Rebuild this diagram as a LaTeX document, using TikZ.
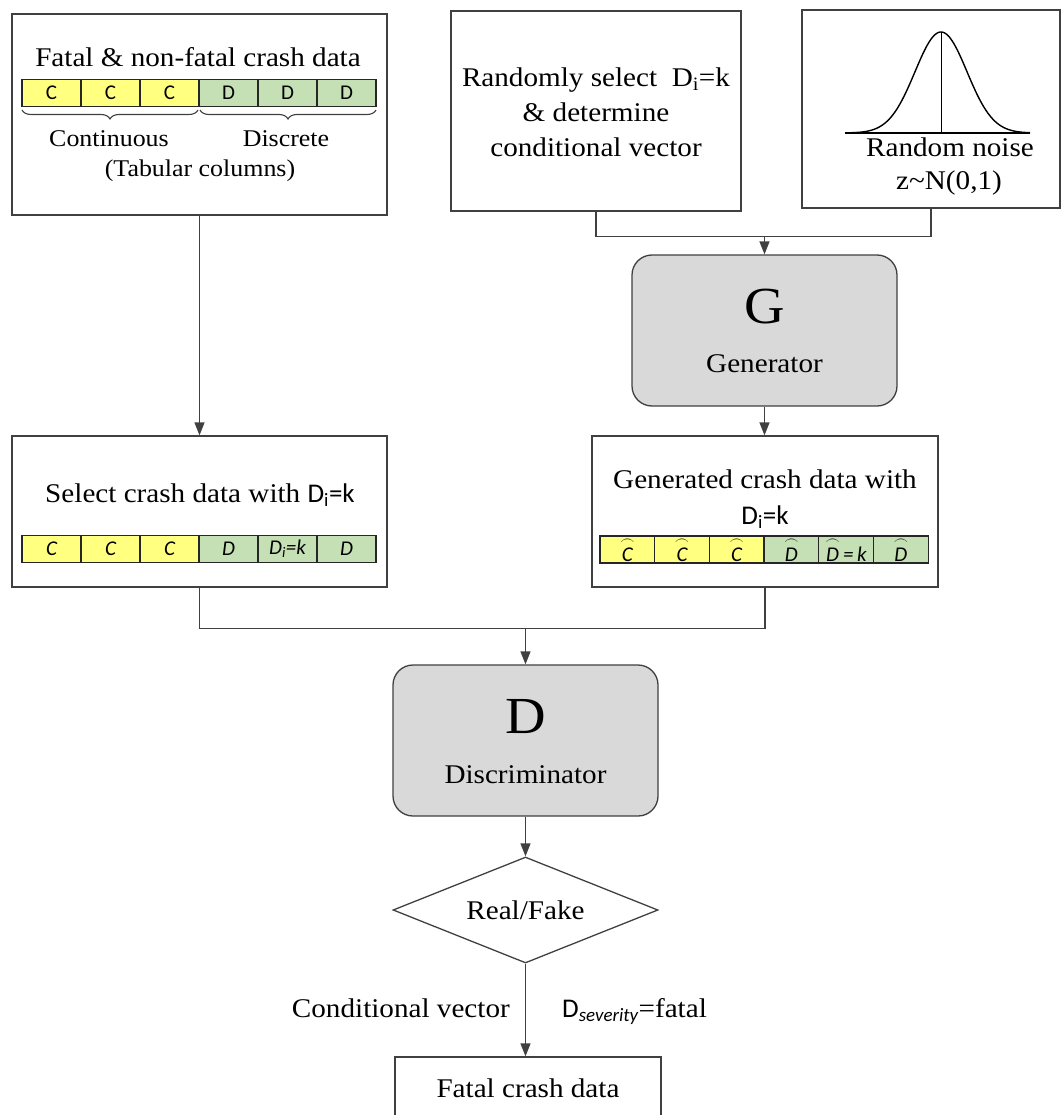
\documentclass[tikz,border=0pt]{standalone}
\usepackage{amsmath}
\usepackage{fontspec}
\setmainfont{Liberation Serif}[FakeStretch=1.08]
\newfontfamily\calib{Carlito}
\usetikzlibrary{arrows.meta,shapes.geometric,decorations.pathreplacing}
\definecolor{cyel}{RGB}{255,255,128}
\definecolor{cgrn}{RGB}{197,224,180}
\definecolor{cgray}{RGB}{217,217,217}
\definecolor{cline}{RGB}{64,64,64}
\newcommand\arcov[1]{$\overset{\frown}{\mbox{\itshape #1}}$}
\begin{document}
\begin{tikzpicture}[x=1pt,y=-1pt,
  box/.style={draw=cline,line width=1.3pt,fill=white,inner sep=0pt},
  rbox/.style={draw=cline,line width=1.3pt,fill=cgray,rounded corners=20pt,inner sep=0pt},
  txt/.style={font=\fontsize{27}{35}\selectfont,inner sep=0pt},
  small/.style={font=\fontsize{24}{30}\selectfont,inner sep=0pt},
  big/.style={font=\fontsize{52}{60}\selectfont,inner sep=0pt},
  cell/.style={draw=black!85,line width=1.2pt,minimum height=27pt,inner sep=0pt,font=\calib\fontsize{21}{24}\selectfont},
  conn/.style={draw=cline,line width=1.3pt},
  arr/.style={conn,-{Triangle[length=13pt,width=10pt]}},
  brc/.style={draw=cline,line width=1.1pt,decorate,decoration={brace,mirror,amplitude=9pt}}
]
\useasboundingbox (0,0) rectangle (1061,1115);

% ---------- boxes ----------
\node[box,minimum width=375pt,minimum height=201pt] (b1) at (199.5,114.5) {};
\node[box,minimum width=290pt,minimum height=200pt] (b2) at (596,111) {};
\node[box,minimum width=258pt,minimum height=198pt] (b3) at (931,109) {};
\node[rbox,minimum width=265pt,minimum height=151pt] (G) at (764.5,330.5) {};
\node[box,minimum width=375pt,minimum height=151pt] (sel) at (199.5,511.5) {};
\node[box,minimum width=346pt,minimum height=151pt] (gen) at (765,511.5) {};
\node[rbox,minimum width=265pt,minimum height=151pt] (D) at (525.5,740.5) {};
\node[draw=cline,line width=1.3pt,diamond,aspect=2.5,minimum width=265pt,minimum height=106pt,inner sep=0pt,txt] (rf) at (525.5,910) {Real/Fake};
\node[box,minimum width=266pt,minimum height=63pt] (fatal) at (528,1088.5) {};

% ---------- box 1 ----------
\node[txt,anchor=base] (t1) at (198,67) {Fatal \& non-fatal crash data};
\foreach \i in {0,1,2} \node[cell,fill=cyel,minimum width=59pt] (a\i) at ({51.5+59*\i},93) {C};
\foreach \i in {3,4,5} \node[cell,fill=cgrn,minimum width=59pt] (a\i) at ({51.5+59*\i},93) {D};
\draw[brc] (22,110) -- (198,110);
\draw[brc] (200,110) -- (376,110);
\node[small,anchor=base] (cont) at (109,147) {Continuous};
\node[small,anchor=base] (disc) at (286,147) {Discrete};
\node[small,anchor=base] (tab) at (200,177) {(Tabular columns)};

% ---------- box 2 ----------
\node[txt,align=center] (t2) at (596,112) {Randomly select\ \ D\textsubscript{i}=k\\ \& determine\\ conditional vector};

% ---------- box 3 ----------
\draw[line width=1.4pt] plot[domain=-96:89,samples=120,smooth] ({941+\x},{133-101*exp(-0.5*(\x/26)*(\x/26))});
\draw[line width=1.7pt] (845,133) -- (1030,133);
\draw[line width=1pt] (941,32) -- (941,133);
\node[txt,anchor=base] (rn) at (950,157) {Random noise};
\node[txt,anchor=base] (zn) at (949,190) {z\textasciitilde N(0,1)};

% ---------- G ----------
\node[big,anchor=base] (Gl) at (764.5,323) {G};
\node[txt,anchor=base] (Gt) at (764.5,372) {Generator};

% ---------- select ----------
\node[txt,anchor=base] (st) at (200,502) {Select crash data with {\calib D\textsubscript{i}=k}};
\node[cell,fill=cyel,minimum width=59pt] (s0) at (51.5,549) {\itshape C};
\node[cell,fill=cyel,minimum width=59pt] (s1) at (110.5,549) {\itshape C};
\node[cell,fill=cyel,minimum width=59pt] (s2) at (169.5,549) {\itshape C};
\node[cell,fill=cgrn,minimum width=59pt] (s3) at (228.5,549) {\itshape D};
\node[cell,fill=cgrn,minimum width=59pt] (s4) at (287.5,549) {\itshape D\textsubscript{i}=k};
\node[cell,fill=cgrn,minimum width=59pt] (s5) at (346.5,549) {\itshape D};

% ---------- generated ----------
\node[txt,anchor=base] (gt1) at (765,488) {Generated crash data with};
\node[txt,anchor=base] (gt2) at (765,524) {\calib D\textsubscript{i}=k};
\node[cell,fill=cyel,minimum width=54.7pt] (g0) at (627.3,549.5) {\arcov{C}};
\node[cell,fill=cyel,minimum width=54.7pt] (g1) at (682,549.5) {\arcov{C}};
\node[cell,fill=cyel,minimum width=54.7pt] (g2) at (736.7,549.5) {\arcov{C}};
\node[cell,fill=cgrn,minimum width=54.7pt] (g3) at (791.4,549.5) {\arcov{D}};
\node[cell,fill=cgrn,minimum width=54.7pt] (g4) at (846.1,549.5) {\arcov{D}\,{\itshape=\,k}};
\node[cell,fill=cgrn,minimum width=54.7pt] (g5) at (900.8,549.5) {\arcov{D}};

% ---------- D ----------
\node[big,anchor=base] (Dl) at (525.5,733) {D};
\node[txt,anchor=base] (Dt) at (525.5,783) {Discriminator};

% ---------- fatal ----------
\node[txt,anchor=base] (ft) at (528,1097) {Fatal crash data};
\node[txt,anchor=base east] (cv) at (510,1017) {Conditional vector};
\node[txt,anchor=base west] (sev) at (562,1017) {{\calib D\textsubscript{\itshape severity}}=fatal};

% ---------- connectors ----------
\draw[arr] (b1.south) -- (sel.north);
\draw[conn] (b2.south) -- ++(0,25) -| (b3.south);
\coordinate (bus1) at (764.5,236);
\draw[arr] (bus1) -- (G.north);
\draw[arr] (G.south) -- (G.south |- gen.north);
\draw[conn] (sel.south) -- ++(0,41) -| (gen.south);
\coordinate (bus2) at (525.5,628);
\draw[arr] (bus2) -- (D.north);
\draw[arr] (D.south) -- (rf.north);
\draw[arr] (rf.south) -- (rf.south |- fatal.north);
\end{tikzpicture}
\end{document}
